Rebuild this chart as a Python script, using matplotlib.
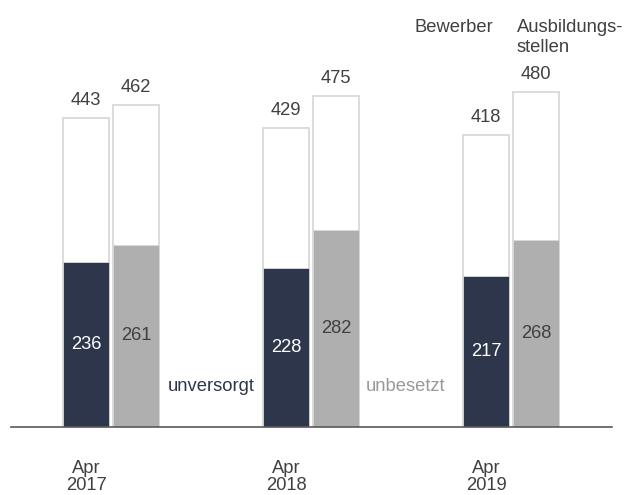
import matplotlib.pyplot as plt
import numpy as np

plt.rcParams['font.family'] = ['Liberation Sans', 'DejaVu Sans']

# Daten
jahre = ['Apr\n2017', 'Apr\n2018', 'Apr\n2019']
bewerber = [443, 429, 418]
unversorgt = [236, 228, 217]
stellen = [462, 475, 480]
unbesetzt = [261, 282, 268]

dunkel = '#2e364b'
grau = '#afafaf'
rand = '#d9d9d9'
text = '#404040'

x = np.arange(len(jahre))
w = 0.23
off = 0.125

fig = plt.figure(figsize=(6.31, 4.95), dpi=100)
ax = fig.add_axes([11 / 631, 68 / 495, 601 / 631, 427 / 495])

# obere (weisse) Balken = Gesamt
ax.bar(x - off, bewerber, w, color='white', edgecolor=rand, linewidth=1.3)
ax.bar(x + off, stellen, w, color='white', edgecolor=rand, linewidth=1.3)
# untere Balken
ax.bar(x - off, unversorgt, w, color=dunkel, edgecolor=rand, linewidth=0.6)
ax.bar(x + off, unbesetzt, w, color=grau, edgecolor=rand, linewidth=0.6)

fs = 13.2
for i in range(len(jahre)):
    ax.annotate(str(bewerber[i]), (x[i] - off, bewerber[i]), xytext=(0, 6.5),
                textcoords='offset points', ha='center', va='bottom',
                fontsize=fs, color=text)
    ax.annotate(str(stellen[i]), (x[i] + off, stellen[i]), xytext=(0, 6.5),
                textcoords='offset points', ha='center', va='bottom',
                fontsize=fs, color=text)
    ax.text(x[i] - off, unversorgt[i] / 2, str(unversorgt[i]), ha='center',
            va='center', fontsize=fs, color='white')
    ax.text(x[i] + off, unbesetzt[i] / 2, str(unbesetzt[i]), ha='center',
            va='center', fontsize=fs, color=text)

ax.text(0.5, 58, 'unversorgt', ha='center', va='center', fontsize=fs, color=dunkel)
ax.text(1.47, 58, 'unbesetzt', ha='center', va='center', fontsize=fs, color='#999999')

ax.text(1.91, 573, 'Bewerber', ha='right', va='center', fontsize=fs, color=text)
ax.text(2.03, 558, 'Ausbildungs-\nstellen', ha='left', va='center', fontsize=fs,
        color=text, linespacing=1.2)

ax.set_xlim(-0.5, 2.505)
ax.set_ylim(0, 612)
ax.set_xticks(x - off)
ax.set_xticklabels(jahre, fontsize=fs, color=text, linespacing=1.0)
ax.tick_params(axis='x', length=0, pad=24)
ax.set_yticks([])
for s in ['top', 'right', 'left']:
    ax.spines[s].set_visible(False)
ax.spines['bottom'].set_color('#595959')
ax.spines['bottom'].set_linewidth(1.2)

fig.savefig('out.png', dpi=100)
